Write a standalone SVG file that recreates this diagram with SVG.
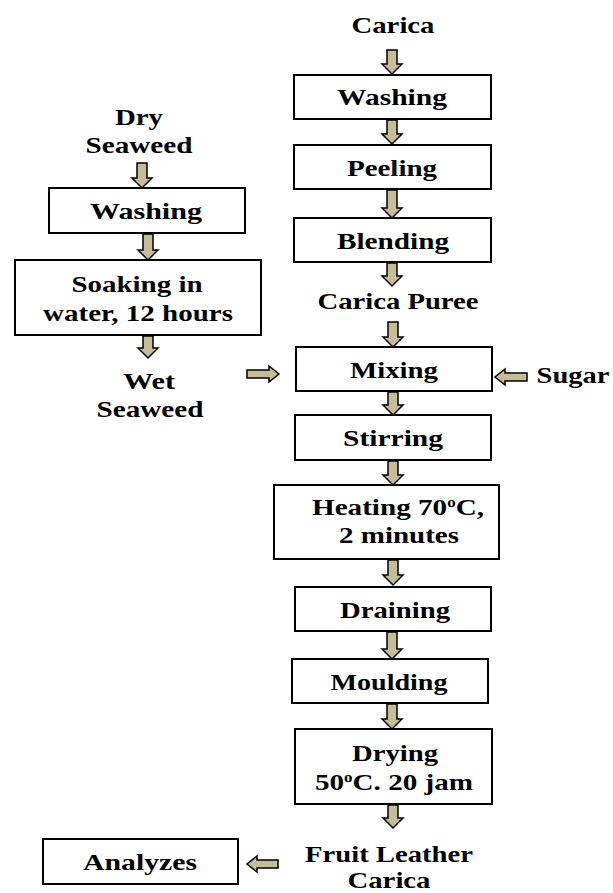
<svg xmlns="http://www.w3.org/2000/svg" width="613" height="893" viewBox="0 0 613 893">
<style>
.box{fill:#fff;stroke:#000;stroke-width:2}
.t{font-family:"Liberation Serif","Times New Roman",serif;font-weight:bold;font-size:24px;fill:#000;text-anchor:middle}
.sup{font-size:14px}
.ar{fill:#c4bd97;stroke:#000;stroke-width:1.5;stroke-linejoin:miter}
</style>
<rect width="613" height="893" fill="#fff"/>
<g id="connectors">
<path class="ar" d="M387,50 H397 V64 H402 L392,74 L382,64 H387 Z"/>
<path class="ar" d="M387,120 H397 V134 H402 L392,144 L382,134 H387 Z"/>
<path class="ar" d="M387,190 H397 V208 H402 L392,218 L382,208 H387 Z"/>
<path class="ar" d="M387,263 H397 V276 H402 L392,286 L382,276 H387 Z"/>
<path class="ar" d="M388,322 H398 V337 H403 L393,347 L383,337 H388 Z"/>
<path class="ar" d="M388,392 H398 V405 H403 L393,415 L383,405 H388 Z"/>
<path class="ar" d="M388,461 H398 V475 H403 L393,485 L383,475 H388 Z"/>
<path class="ar" d="M388,560 H398 V575 H403 L393,585 L383,575 H388 Z"/>
<path class="ar" d="M387,632 H397 V649 H402 L392,659 L382,649 H387 Z"/>
<path class="ar" d="M387,704 H397 V719 H402 L392,729 L382,719 H387 Z"/>
<path class="ar" d="M388,805 H398 V818 H403 L393,828 L383,818 H388 Z"/>
<path class="ar" d="M137,163 H147 V178 H152 L142,188 L132,178 H137 Z"/>
<path class="ar" d="M143,234 H153 V250 H158 L148,260 L138,250 H143 Z"/>
<path class="ar" d="M143,336 H153 V348 H158 L148,358 L138,348 H143 Z"/>
<path class="ar" d="M247,370 H269 V366 L279,374 L269,382 V378 H247 Z"/>
<path class="ar" d="M527,373 H505 V369 L495,377 L505,385 V381 H527 Z"/>
<path class="ar" d="M278,860 H257 V856 L247,864 L257,872 V868 H278 Z"/>
</g>
<g id="carica"><text class="t" x="393" y="33" textLength="83" lengthAdjust="spacingAndGlyphs">Carica</text></g>
<g id="washing-r"><rect class="box" x="294" y="75" width="197" height="44"/><text class="t" x="392" y="105" textLength="110" lengthAdjust="spacingAndGlyphs">Washing</text></g>
<g id="peeling"><rect class="box" x="294" y="145" width="197" height="44"/><text class="t" x="392" y="176" textLength="90" lengthAdjust="spacingAndGlyphs">Peeling</text></g>
<g id="blending"><rect class="box" x="294" y="218" width="197" height="44"/><text class="t" x="393" y="249" textLength="112" lengthAdjust="spacingAndGlyphs">Blending</text></g>
<g id="puree"><text class="t" x="398" y="309" textLength="161" lengthAdjust="spacingAndGlyphs">Carica Puree</text></g>
<g id="mixing"><rect class="box" x="296" y="347" width="196" height="44"/><text class="t" x="394" y="378" textLength="88" lengthAdjust="spacingAndGlyphs">Mixing</text></g>
<g id="sugar"><text class="t" x="573" y="383" textLength="73" lengthAdjust="spacingAndGlyphs">Sugar</text></g>
<g id="stirring"><rect class="box" x="295" y="415" width="196" height="45"/><text class="t" x="393" y="446" textLength="100" lengthAdjust="spacingAndGlyphs">Stirring</text></g>
<g id="heating"><rect class="box" x="274" y="485" width="225" height="74"/><text class="t" x="398" y="515" textLength="172" lengthAdjust="spacingAndGlyphs">Heating 70<tspan class="sup" dy="-8">o</tspan><tspan dy="8">C,</tspan></text><text class="t" x="399" y="543" textLength="120" lengthAdjust="spacingAndGlyphs">2 minutes</text></g>
<g id="draining"><rect class="box" x="295" y="587" width="196" height="44"/><text class="t" x="395" y="618" textLength="110" lengthAdjust="spacingAndGlyphs">Draining</text></g>
<g id="moulding"><rect class="box" x="292" y="659" width="196" height="44"/><text class="t" x="389" y="690" textLength="117" lengthAdjust="spacingAndGlyphs">Moulding</text></g>
<g id="drying"><rect class="box" x="295" y="729" width="197" height="75"/><text class="t" x="395" y="761" textLength="86" lengthAdjust="spacingAndGlyphs">Drying</text><text class="t" x="394" y="790" textLength="158" lengthAdjust="spacingAndGlyphs">50<tspan class="sup" dy="-8">o</tspan><tspan dy="8">C. 20 jam</tspan></text></g>
<g id="fruit-leather"><text class="t" x="389" y="862" textLength="168" lengthAdjust="spacingAndGlyphs">Fruit Leather</text><text class="t" x="389" y="888" textLength="83" lengthAdjust="spacingAndGlyphs">Carica</text></g>
<g id="analyzes"><rect class="box" x="43" y="839" width="195" height="45"/><text class="t" x="140" y="870" textLength="114" lengthAdjust="spacingAndGlyphs">Analyzes</text></g>
<g id="dry-seaweed"><text class="t" x="139" y="125" textLength="48" lengthAdjust="spacingAndGlyphs">Dry</text><text class="t" x="139" y="153" textLength="107" lengthAdjust="spacingAndGlyphs">Seaweed</text></g>
<g id="washing-l"><rect class="box" x="49" y="188" width="196" height="45"/><text class="t" x="146" y="219" textLength="112" lengthAdjust="spacingAndGlyphs">Washing</text></g>
<g id="soaking"><rect class="box" x="15" y="260" width="246" height="75"/><text class="t" x="137" y="292" textLength="131" lengthAdjust="spacingAndGlyphs">Soaking in</text><text class="t" x="138" y="321" textLength="190" lengthAdjust="spacingAndGlyphs">water, 12 hours</text></g>
<g id="wet-seaweed"><text class="t" x="149" y="389" textLength="52" lengthAdjust="spacingAndGlyphs">Wet</text><text class="t" x="150" y="417" textLength="107" lengthAdjust="spacingAndGlyphs">Seaweed</text></g>
</svg>
